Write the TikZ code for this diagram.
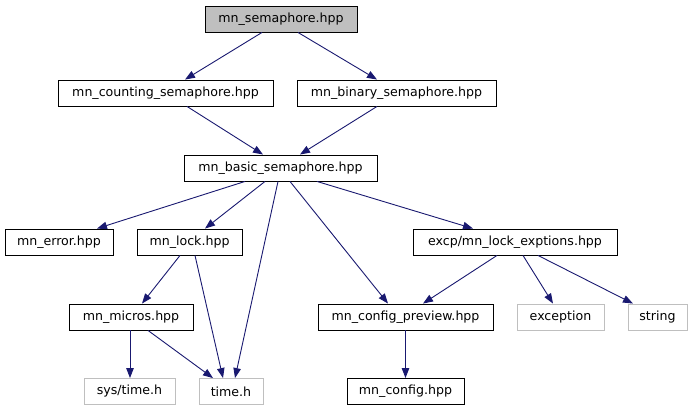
\documentclass[tikz,border=0pt]{standalone}
\usepackage{fontspec}
\setmainfont{DejaVu Sans}
\usetikzlibrary{arrows.meta}
\definecolor{edgeblue}{HTML}{191970}
\definecolor{ghost}{HTML}{BFBFBF}
\tikzset{
  filebox/.style={draw=black, line width=0.9pt, fill=white, inner sep=0pt, minimum height=26pt, font=\fontsize{12.6}{15}\selectfont},
  mainbox/.style={filebox, fill=ghost},
  sysbox/.style={filebox, draw=ghost},
  dep/.style={draw=edgeblue, line width=0.9pt, -{Triangle[length=10pt,width=7.5pt]}, color=edgeblue},
}
\begin{document}
\begin{tikzpicture}[x=1pt,y=-1pt]
\useasboundingbox (0,0) rectangle (693,411);
\node[mainbox, minimum width=152pt] (sem) at (281,19) {mn\_semaphore.hpp};
\node[filebox, minimum width=215pt] (cnt) at (165.5,93) {mn\_counting\_semaphore.hpp};
\node[filebox, minimum width=199pt] (bin) at (396.5,93) {mn\_binary\_semaphore.hpp};
\node[filebox, minimum width=193pt] (bas) at (280.5,168) {mn\_basic\_semaphore.hpp};
\node[filebox, minimum width=108pt] (err) at (59,242) {mn\_error.hpp};
\node[filebox, minimum width=105pt] (lck) at (189.5,242) {mn\_lock.hpp};
\node[filebox, minimum width=204pt] (exc) at (515,242) {excp/mn\_lock\_exptions.hpp};
\node[filebox, minimum width=124pt] (mic) at (131,317) {mn\_micros.hpp};
\node[filebox, minimum width=175pt] (cfp) at (405.5,317) {mn\_config\_preview.hpp};
\node[sysbox, minimum width=87pt] (exn) at (560.5,317) {exception};
\node[sysbox, minimum width=59pt] (str) at (657.5,317) {string};
\node[sysbox, minimum width=91pt] (sys) at (129.5,391.5) {sys/time.h};
\node[sysbox, minimum width=64pt] (tim) at (231,391.5) {time.h};
\node[filebox, minimum width=117pt] (cfg) at (405.5,391.5) {mn\_config.hpp};

\draw[dep] ([xshift=-19pt]sem.south) -- ([xshift=19.5pt]cnt.north);
\draw[dep] ([xshift=17pt]sem.south) -- ([xshift=-19.5pt]bin.north);
\draw[dep] ([xshift=21.5pt]cnt.south) -- ([xshift=-17.5pt]bas.north);
\draw[dep] ([xshift=-19.5pt]bin.south) -- ([xshift=19.5pt]bas.north);
\draw[dep] ([xshift=-35.5pt]bas.south) -- ([xshift=38pt]err.north);
\draw[dep] ([xshift=-15.5pt]bas.south) -- ([xshift=15.5pt]lck.north);
\draw[dep] ([xshift=-2.5pt]bas.south) -- ([xshift=4pt]tim.north);
\draw[dep] ([xshift=9.5pt]bas.south) -- ([xshift=-17.5pt]cfp.north);
\draw[dep] ([xshift=36.5pt]bas.south) -- ([xshift=-42pt]exc.north);
\draw[dep] ([xshift=-9.5pt]lck.south) -- ([xshift=11pt]mic.north);
\draw[dep] ([xshift=5.5pt]lck.south) -- ([xshift=-8pt]tim.north);
\draw[dep] ([xshift=-18pt]exc.south) -- ([xshift=17.5pt]cfp.north);
\draw[dep] ([xshift=8pt]exc.south) -- ([xshift=-7.5pt]exn.north);
\draw[dep] ([xshift=23pt]exc.south) -- ([xshift=-24.5pt]str.north);
\draw[dep] ([xshift=-1pt]mic.south) -- ([xshift=0.5pt]sys.north);
\draw[dep] ([xshift=17pt]mic.south) -- ([xshift=-18pt]tim.north);
\draw[dep] (cfp.south) -- (cfg.north);
\end{tikzpicture}
\end{document}
